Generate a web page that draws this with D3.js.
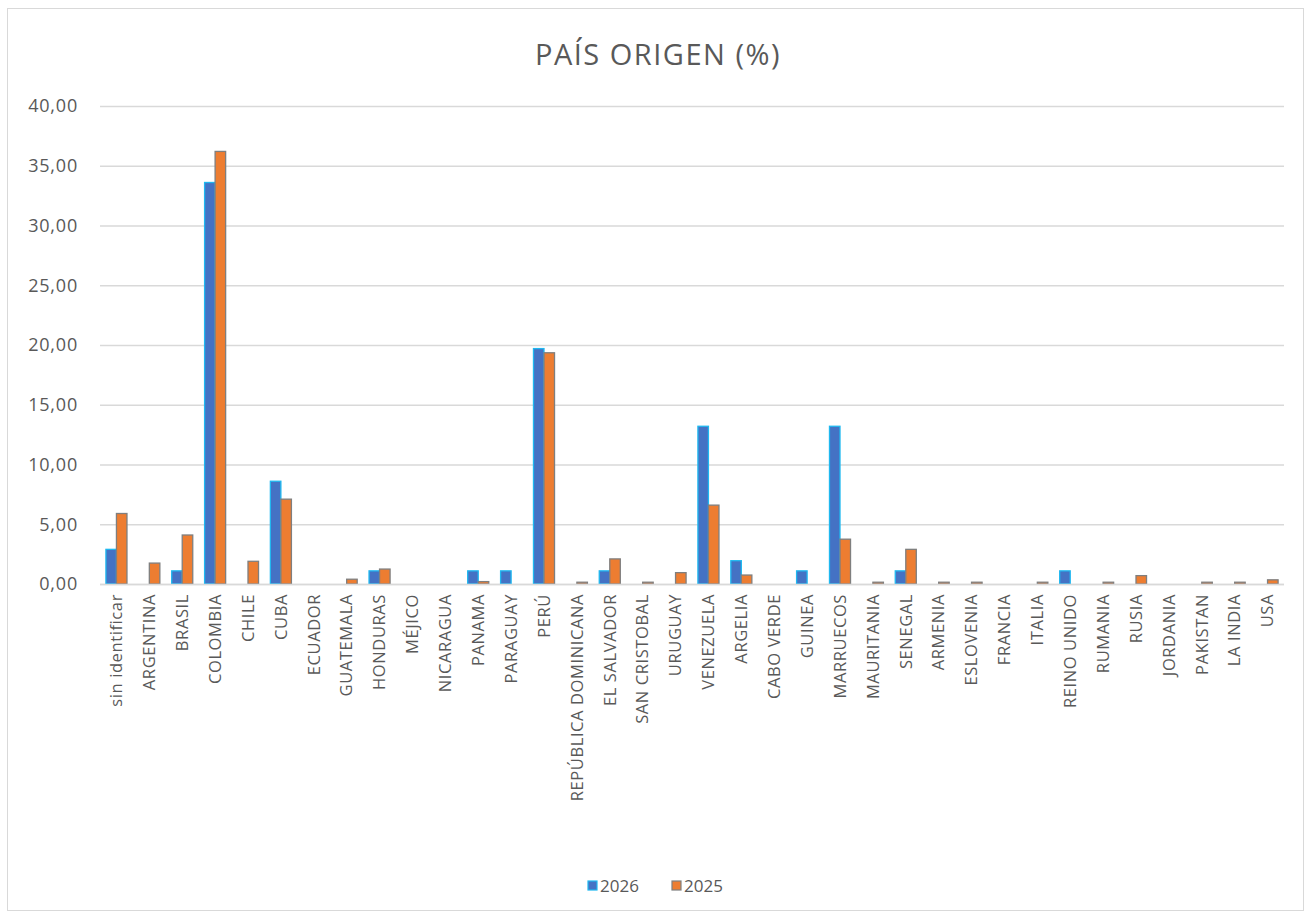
<!DOCTYPE html>
<html><head><meta charset="utf-8">
<script src="https://cdn.jsdelivr.net/npm/d3@7"></script>
<style>body{margin:0;background:#fff;} svg{display:block;font-family:"Open Sans",sans-serif;}</style>
</head><body><svg id="c" width="1311" height="918"></svg>
<script>
const categories = ["sin identificar","ARGENTINA","BRASIL","COLOMBIA","CHILE","CUBA","ECUADOR","GUATEMALA","HONDURAS","MÉJICO","NICARAGUA","PANAMA","PARAGUAY","PERÚ","REPÚBLICA DOMINICANA","EL SALVADOR","SAN CRISTOBAL","URUGUAY","VENEZUELA","ARGELIA","CABO VERDE","GUINEA","MARRUECOS","MAURITANIA","SENEGAL","ARMENIA","ESLOVENIA","FRANCIA","ITALIA","REINO UNIDO","RUMANIA","RUSIA","JORDANIA","PAKISTAN","LA INDIA","USA"];
const values2026 = [2.9,0,1.1,33.6,0,8.6,0,0,1.1,0,0,1.1,1.1,19.7,0,1.1,0,0,13.2,1.95,0,1.1,13.2,0,1.1,0,0,0,0,1.1,0,0,0,0,0,0];
const values2025 = [5.9,1.75,4.1,36.2,1.9,7.1,0,0.4,1.25,0,0,0.2,0,19.35,0.15,2.1,0.15,0.95,6.6,0.75,0,0,3.75,0.15,2.9,0.15,0.15,0,0.15,0,0.15,0.7,0,0.15,0.15,0.35];
const seriesNames = ["2026","2025"];
const yTicks = [0,5,10,15,20,25,30,35,40];
const title = "PAÍS ORIGEN (%)";

const svg = d3.select("#c");
svg.append("rect").attr("x",7.5).attr("y",8.5).attr("width",1296).attr("height",902).attr("fill","#fff").attr("stroke","#d9d9d9");

const L=100, R=1284, T=106, B=584;
const x = d3.scaleBand().domain(categories).range([L,R]).paddingInner(0.36).paddingOuter(0.18);
const xs = d3.scaleBand().domain(seriesNames).range([0,x.bandwidth()]);
const y = d3.scaleLinear().domain([0,40]).range([B,T]);
const fmt = v => d3.format(".2f")(v).replace(".",",");

// grid
svg.append("g").selectAll("line").data(yTicks).join("line")
  .attr("x1",L).attr("x2",R).attr("y1",d=>y(d)+0.5).attr("y2",d=>y(d)+0.5)
  .attr("stroke","#d9d9d9").attr("stroke-width",1.3);

// y axis labels
const yAxis = d3.axisLeft(y).tickValues(yTicks).tickFormat(fmt).tickSize(0).tickPadding(22);
const gy = svg.append("g").attr("transform",`translate(${L},0)`).call(yAxis);
gy.select(".domain").remove();
gy.selectAll("text").attr("fill","#595959").style("font-size","18px").style("letter-spacing","0.8px").style("font-family","Open Sans, sans-serif");

// bars
const data = categories.map((c,i)=>({c, v:[values2026[i],values2025[i]]}));
const fills = ["#4472C4","#ED7D31"], strokes = ["#1FB8F0","#7f7f7f"];
const g = svg.append("g");
data.forEach(d=>{
  seriesNames.forEach((s,k)=>{
    const v=d.v[k];
    if(v<=0) return;
    g.append("rect").attr("x",x(d.c)+xs(s)).attr("width",xs.bandwidth())
      .attr("y",y(v)).attr("height",Math.max(0,B-y(v)))
      .attr("fill",fills[k]).attr("stroke",strokes[k]).attr("stroke-width",1.3);
  });
});

// x axis line
svg.append("line").attr("x1",L).attr("x2",R).attr("y1",B+0.5).attr("y2",B+0.5).attr("stroke","#d9d9d9").attr("stroke-width",1.3);

// x labels
const xAxis = d3.axisBottom(x).tickSize(0).tickPadding(0);
const gx = svg.append("g").attr("transform",`translate(0,${B})`).call(xAxis);
gx.select(".domain").remove();
gx.selectAll("text").attr("fill","#595959").style("font-size","16.5px").style("letter-spacing","0.6px").style("font-family","Open Sans, sans-serif")
  .attr("transform","rotate(-90)").attr("text-anchor","end").attr("dy","0.35em").attr("x",-10).attr("y",0);

// title
svg.append("text").attr("x",658).attr("y",65).attr("text-anchor","middle")
  .attr("fill","#595959").style("font-size","29px").style("letter-spacing","1.5px").text(title);

// legend
const lg = svg.append("g");
const lx=[588,672];
seriesNames.forEach((s,k)=>{
  lg.append("rect").attr("x",lx[k]).attr("y",881).attr("width",9).attr("height",9).attr("fill",fills[k]).attr("stroke",strokes[k]).attr("stroke-width",1.2);
  lg.append("text").attr("x",lx[k]+12).attr("y",892).attr("fill","#595959").style("font-size","17px").text(s);
});
</script></body></html>
